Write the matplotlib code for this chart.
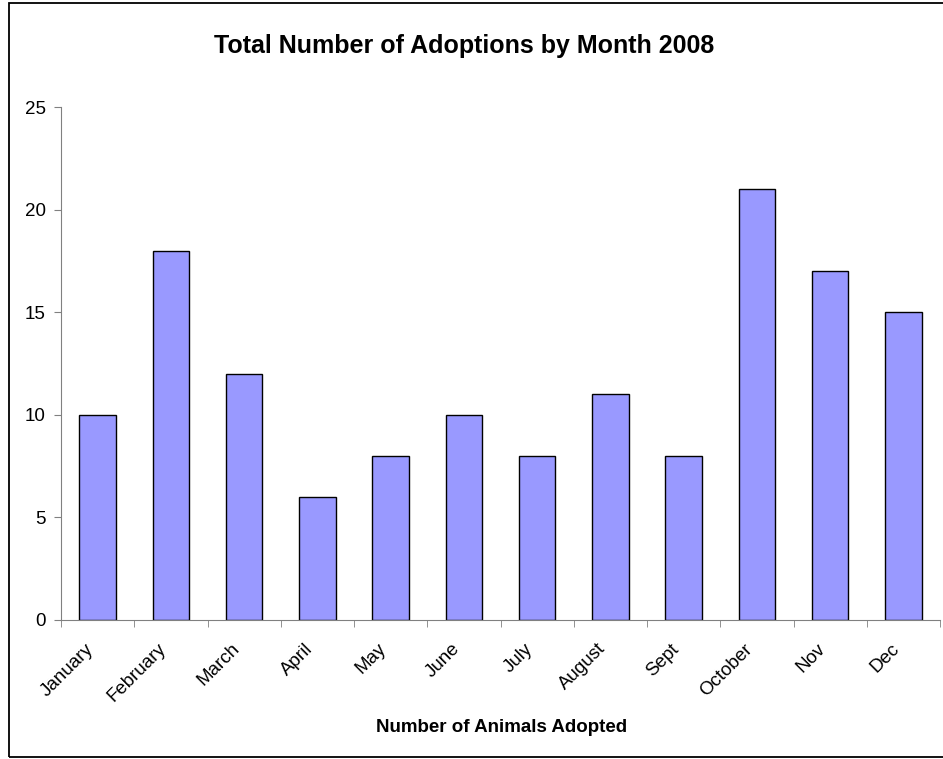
import matplotlib
matplotlib.use('Agg')
import matplotlib.pyplot as plt
import matplotlib.transforms as mtrans
import numpy as np
from matplotlib.patches import Rectangle

months = ['January', 'February', 'March', 'April', 'May', 'June', 'July',
          'August', 'Sept', 'October', 'Nov', 'Dec']
adoptions = [10, 18, 12, 6, 8, 10, 8, 11, 8, 21, 17, 15]
y_ticks = [0, 5, 10, 15, 20, 25]

plt.rcParams['font.family'] = ['Liberation Sans', 'DejaVu Sans']

fig = plt.figure(figsize=(9.43, 7.59), dpi=100)
ax = fig.add_axes([61 / 943, 139 / 759, 879 / 943, 513 / 759])

x = np.arange(len(months))
ax.bar(x, adoptions, width=0.5, color='#9999ff', edgecolor='black', linewidth=1)

ax.set_xlim(-0.5, len(months) - 0.5)
ax.set_ylim(0, 25)
ax.set_yticks(y_ticks)
ax.set_xticks(x)
ax.set_xticklabels(months, rotation=45, ha='right', va='center', rotation_mode='anchor', fontsize=13.5)
ax.set_xticks(np.arange(len(months) + 1) - 0.5, minor=True)
ax.tick_params(axis='x', which='major', length=0, pad=19)
ax.tick_params(axis='x', which='minor', length=5, color='#808080', direction='out')
ax.tick_params(axis='y', length=5, color='#808080', labelsize=13.5, pad=6)

# nudge month labels a little left, like the original
shift = mtrans.ScaledTranslation(-7 / 100, 0, fig.dpi_scale_trans)
for lbl in ax.get_xticklabels():
    lbl.set_transform(lbl.get_transform() + shift)

for side in ['top', 'right']:
    ax.spines[side].set_visible(False)
for side in ['left', 'bottom']:
    ax.spines[side].set_color('#808080')

fig.text(502 / 943, 1 - 727 / 759, 'Number of Animals Adopted', ha='center', va='center',
         fontweight='bold', fontsize=13.5)
fig.text(0.492, 0.94, 'Total Number of Adoptions by Month 2008', ha='center', va='center',
         fontweight='bold', fontsize=18)

fig.patches.append(Rectangle((9 / 943, 2 / 759), 940 / 943, 754 / 759, transform=fig.transFigure,
                             fill=False, edgecolor='black', linewidth=1.3))

fig.savefig('out.png', dpi=100)
